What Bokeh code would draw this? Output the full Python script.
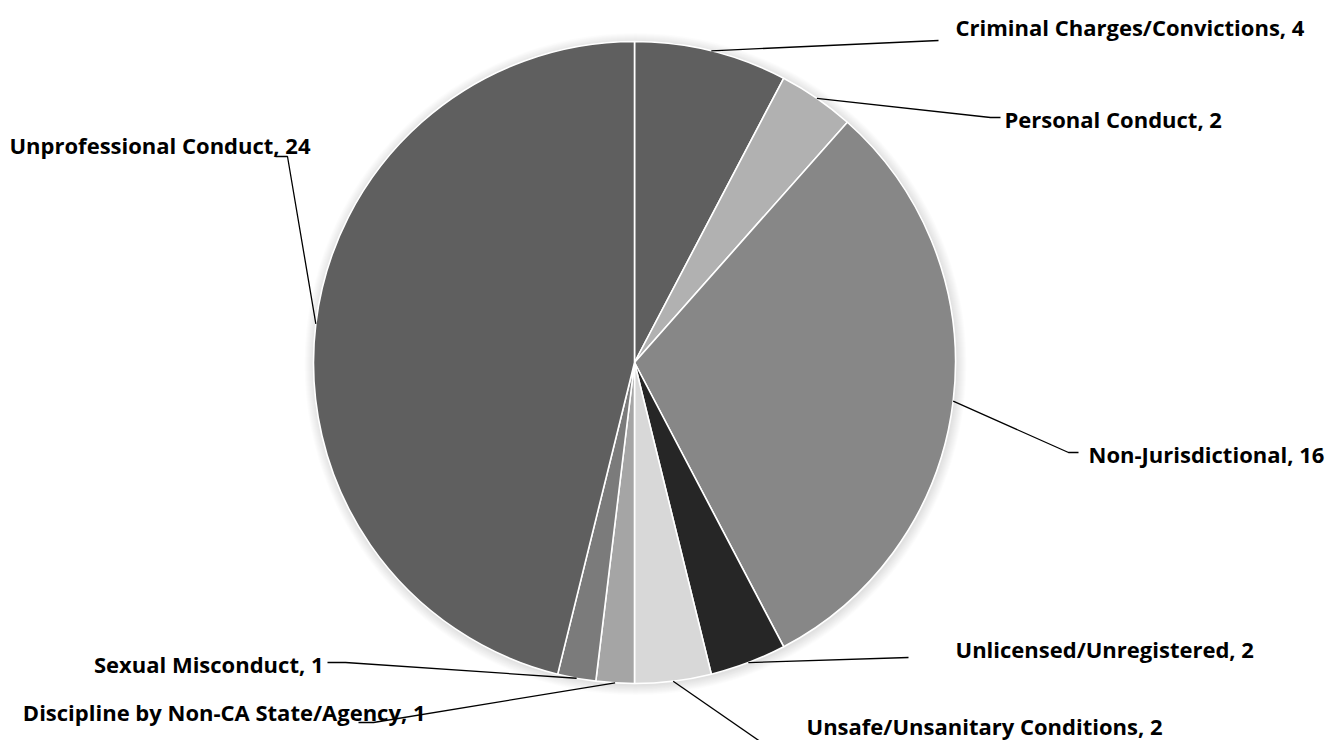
import math
from bokeh.plotting import figure
from bokeh.models import Range1d, ColumnDataSource
from bokeh.core.properties import value
from bokeh.embed import file_html
from bokeh.resources import INLINE

# ---- data ----
categories = [
    "Criminal Charges/Convictions",
    "Personal Conduct",
    "Non-Jurisdictional",
    "Unlicensed/Unregistered",
    "Unsafe/Unsanitary Conditions",
    "Discipline by Non-CA State/Agency",
    "Sexual Misconduct",
    "Unprofessional Conduct",
]
counts = [4, 2, 16, 2, 2, 1, 1, 24]
colors = ["#5f5f5f", "#b1b1b1", "#878787", "#262626",
          "#d8d8d8", "#a5a5a5", "#7b7b7b", "#5f5f5f"]

# ---- layout (screen pixel coords of the 1328x740 picture) ----
W, H = 1328, 740
CX, CY, R = 634, 362, 321
# label anchor (x, baseline y) and alignment
label_pos = [(955, 26), (1004, 118), (1088, 453), (955, 648),
             (806, 725), (425, 711), (323, 663), (310, 144)]
label_align = ["left", "left", "left", "left", "left", "right", "right", "right"]
# leader elbow points after the start on the pie edge
leader_pts = [
    [(938, 40)],
    [(990, 117), (1000, 117)],
    [(1068, 452), (1078, 452)],
    [(908, 657)],
    [(790, 762)],
    [(373, 722), (358, 722)],
    [(345, 662), (327, 662)],
    [(287, 156), (275, 156)],
]


def Y(sy):
    return H - sy


total = sum(counts)
starts, ends, mids = [], [], []
cum = 0
for c in counts:
    a0 = math.pi / 2 - 2 * math.pi * (cum + c) / total
    a1 = math.pi / 2 - 2 * math.pi * cum / total
    starts.append(a0)
    ends.append(a1)
    mids.append((a0 + a1) / 2)
    cum += c

p = figure(width=W, height=H, output_backend="svg", toolbar_location=None,
           x_range=Range1d(0, W), y_range=Range1d(0, H),
           x_axis_type=None, y_axis_type=None, min_border=0)
p.grid.visible = False
p.outline_line_color = None
p.background_fill_color = "white"
p.border_fill_color = "white"

# soft shadow
for i in range(1, 11):
    p.circle(x=[CX + 1], y=[Y(CY) - 1.5], radius=R + i, fill_color="black",
             fill_alpha=0.011, line_color=None)

src = ColumnDataSource(dict(x=[CX] * len(counts), y=[Y(CY)] * len(counts),
                            start=starts, end=ends, color=colors,
                            cat=categories, n=counts))
p.wedge(x="x", y="y", radius=R, start_angle="start", end_angle="end",
        direction="anticlock", fill_color="color", line_color="white",
        line_width=1.6, source=src)

xs, ys = [], []
for i, m in enumerate(mids):
    sx = CX + R * math.cos(m)
    sy = Y(CY) + R * math.sin(m)
    xs.append([sx] + [pt[0] for pt in leader_pts[i]])
    ys.append([sy] + [Y(pt[1]) for pt in leader_pts[i]])
p.multi_line(xs=xs, ys=ys, line_color="black", line_width=1.3)

for align in ("left", "right"):
    idx = [i for i in range(len(counts)) if label_align[i] == align]
    p.text(x=[label_pos[i][0] for i in idx],
           y=[Y(label_pos[i][1]) for i in idx],
           text=[f"{categories[i]}, {counts[i]}" for i in idx],
           text_align=align, text_baseline="alphabetic",
           text_font=value("Open Sans"), text_font_style="bold",
           text_font_size="22px", text_color="black")

open("out.html", "w").write(file_html(p, INLINE))
